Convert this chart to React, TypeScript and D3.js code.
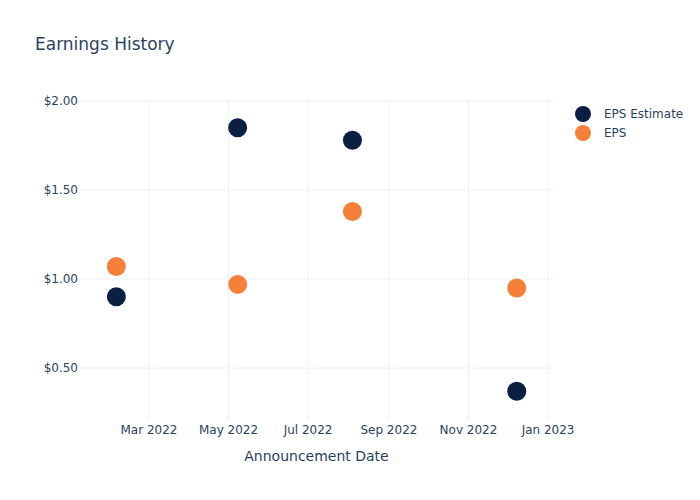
import React from "react";
import * as d3 from "d3";

const dates = ["2022-02-04", "2022-05-08", "2022-08-04", "2022-12-08"];
const epsEstimate = [0.9, 1.85, 1.78, 0.37];
const eps = [1.07, 0.97, 1.38, 0.95];
const yTicks = [0.5, 1.0, 1.5, 2.0];
const xTicks = ["2022-03-01", "2022-05-01", "2022-07-01", "2022-09-01", "2022-11-01", "2023-01-01"];
const seriesNames = ["EPS Estimate", "EPS"];
const seriesColors = ["#0b1f42", "#f6803a"];

const W = 700, H = 500;
const L = 80, R = 553, T = 100, B = 420;
const font = "'DejaVu Sans', Verdana, sans-serif";
const textColor = "#2a3f5f";

export default function App() {
  const x = d3.scaleUtc()
    .domain([new Date(Date.UTC(2022, 0, 7, 3)), new Date(Date.UTC(2023, 0, 4, 19))])
    .range([L, R]);
  const y = d3.scaleLinear().domain([0.208, 2.006]).range([B, T]);
  const parse = (s: string) => new Date(s + "T00:00:00Z");
  const fmtX = d3.utcFormat("%b %Y");
  const fmtY = (v: number) => "$" + d3.format(".2f")(v);
  const series = [epsEstimate, eps];

  return (
    <svg width={W} height={H} style={{ position: "absolute", left: 0, top: 0, background: "#fff" }} fontFamily={font}>
      <rect width={W} height={H} fill="#fff" />
      {xTicks.map((t) => (
        <line key={t} x1={x(parse(t))} x2={x(parse(t))} y1={T} y2={B} stroke="#ebf0f8" strokeWidth={1} />
      ))}
      {yTicks.map((t) => (
        <line key={t} x1={L} x2={R} y1={y(t)} y2={y(t)} stroke="#ebf0f8" strokeWidth={1} />
      ))}
      {yTicks.map((t) => (
        <text key={t} x={L - 2} y={y(t)} dy="0.35em" textAnchor="end" fontSize={12} fill={textColor}>{fmtY(t)}</text>
      ))}
      {xTicks.map((t) => (
        <text key={t} x={x(parse(t))} y={B + 14} textAnchor="middle" fontSize={12} fill={textColor}>{fmtX(parse(t))}</text>
      ))}
      <text x={(L + R) / 2} y={461} textAnchor="middle" fontSize={14} fill={textColor}>Announcement Date</text>
      <text x={35} y={50} fontSize={17} fill={textColor}>Earnings History</text>
      {series.map((vals, si) =>
        vals.map((v, i) => (
          <circle key={si + "-" + i} cx={x(parse(dates[i]))} cy={y(v)} r={9.5} fill={seriesColors[si]} />
        ))
      )}
      {seriesNames.map((n, i) => (
        <g key={n} transform={`translate(583, ${114 + i * 19})`}>
          <circle r={8} fill={seriesColors[i]} />
          <text x={21} dy="0.35em" fontSize={12} fill={textColor}>{n}</text>
        </g>
      ))}
    </svg>
  );
}
